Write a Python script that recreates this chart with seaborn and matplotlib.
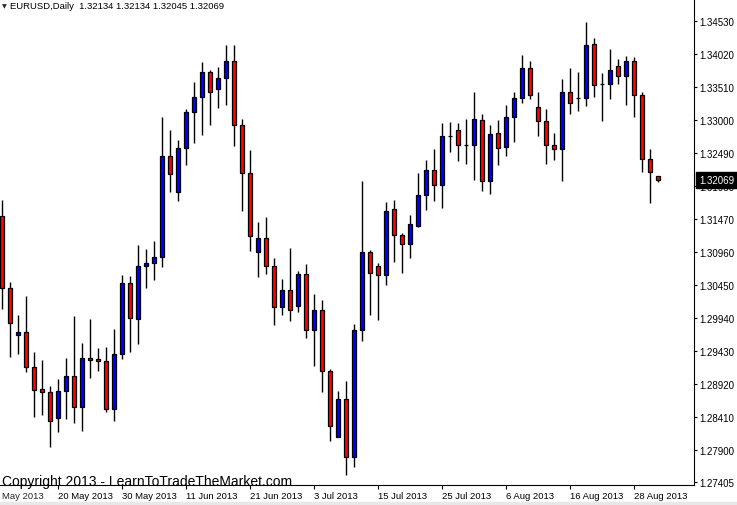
import numpy as np
import pandas as pd
import matplotlib
matplotlib.use("Agg")
import matplotlib.pyplot as plt
import seaborn as sns
from matplotlib.transforms import blended_transform_factory, offset_copy
from matplotlib.patches import Rectangle

# ---------------- data (EURUSD daily) ----------------
symbol_title = "EURUSD,Daily"
start_date = "2013-05-09"

opens = [1.3151, 1.3040, 1.2968, 1.2973, 1.2918, 1.2884, 1.2879, 1.2840, 1.2881, 1.2904,
         1.2856, 1.2932, 1.2930, 1.2927, 1.2853, 1.2938, 1.3048, 1.2992, 1.3074, 1.3079,
         1.3089, 1.3244, 1.3189, 1.3256, 1.3312, 1.3335, 1.3374, 1.3348, 1.3365, 1.3391,
         1.3293, 1.3218, 1.3096, 1.3117, 1.3075, 1.3011, 1.3037, 1.3012, 1.3062, 1.2976,
         1.3007, 1.2912, 1.2810, 1.2868, 1.2779, 1.2975, 1.3096, 1.3074, 1.3060, 1.3162,
         1.3123, 1.3108, 1.3136, 1.3184, 1.3222, 1.3199, 1.3276, 1.3284, 1.3261, 1.3261,
         1.3300, 1.3205, 1.3280, 1.3258, 1.3304, 1.3334, 1.3380, 1.3320, 1.3298, 1.3261,
         1.3255, 1.3344, 1.3334, 1.3334, 1.3418, 1.3355, 1.3355, 1.3383, 1.3368, 1.3392,
         1.3338, 1.3239, 1.32134]
highs = [1.3177, 1.3050, 1.2999, 1.3028, 1.2941, 1.2929, 1.2889, 1.2900, 1.2932, 1.2997,
         1.2955, 1.2992, 1.2948, 1.2949, 1.2977, 1.3060, 1.3059, 1.3107, 1.3101, 1.3113,
         1.3305, 1.3285, 1.3269, 1.3317, 1.3359, 1.3390, 1.3377, 1.3382, 1.3416, 1.3416,
         1.3302, 1.3254, 1.3143, 1.3150, 1.3086, 1.3055, 1.3102, 1.3066, 1.3077, 1.3031,
         1.3022, 1.2915, 1.2881, 1.2897, 1.2985, 1.3205, 1.3099, 1.3079, 1.3173, 1.3177,
         1.3126, 1.3153, 1.3218, 1.3238, 1.3255, 1.3295, 1.3297, 1.3295, 1.3301, 1.3344,
         1.3310, 1.3293, 1.3300, 1.3323, 1.3344, 1.3400, 1.3391, 1.3343, 1.3317, 1.3280,
         1.3363, 1.3380, 1.3374, 1.3452, 1.3427, 1.3373, 1.3410, 1.3394, 1.3399, 1.3397,
         1.3343, 1.3255, 1.32134]
lows = [1.3008, 1.2933, 1.2939, 1.2911, 1.2841, 1.2844, 1.2794, 1.2817, 1.2838, 1.2831,
        1.2820, 1.2901, 1.2912, 1.2848, 1.2835, 1.2931, 1.2942, 1.2953, 1.3041, 1.3052,
        1.3073, 1.3189, 1.3175, 1.3231, 1.3265, 1.3277, 1.3293, 1.3318, 1.3324, 1.3260,
        1.3160, 1.3097, 1.3058, 1.3062, 1.2983, 1.2998, 1.2990, 1.3004, 1.2963, 1.2920,
        1.2880, 1.2804, 1.2810, 1.2752, 1.2763, 1.2959, 1.2998, 1.2991, 1.3045, 1.3081,
        1.3064, 1.3087, 1.3134, 1.3161, 1.3175, 1.3164, 1.3251, 1.3237, 1.3232, 1.3208,
        1.3191, 1.3186, 1.3231, 1.3245, 1.3266, 1.3327, 1.3332, 1.3276, 1.3232, 1.3238,
        1.3205, 1.3310, 1.3314, 1.3322, 1.3335, 1.3298, 1.3332, 1.3355, 1.3323, 1.3304,
        1.3219, 1.3172, 1.32045]
closes = [1.3040, 1.2987, 1.2973, 1.2918, 1.2882, 1.2879, 1.2834, 1.2881, 1.2904, 1.2856,
          1.2932, 1.2929, 1.2927, 1.2853, 1.2938, 1.3048, 1.2994, 1.3074, 1.3079, 1.3089,
          1.3244, 1.3216, 1.3256, 1.3312, 1.3335, 1.3374, 1.3344, 1.3365, 1.3392, 1.3293,
          1.3218, 1.3120, 1.3117, 1.3075, 1.3011, 1.3037, 1.3007, 1.3062, 1.2976, 1.3007,
          1.2912, 1.2827, 1.2868, 1.2779, 1.2975, 1.3096, 1.3064, 1.3060, 1.3160, 1.3123,
          1.3108, 1.3140, 1.3184, 1.3222, 1.3199, 1.3276, 1.3276, 1.3261, 1.3261, 1.3301,
          1.3205, 1.3278, 1.3256, 1.3304, 1.3334, 1.3380, 1.3338, 1.3298, 1.3261, 1.3255,
          1.3344, 1.3327, 1.3334, 1.3416, 1.3354, 1.3355, 1.3378, 1.3368, 1.3392, 1.3338,
          1.3239, 1.3219, 1.32069]

last_bar_text = "1.32134 1.32134 1.32045 1.32069"
current_price = 1.32069
ytick_values = [1.27405, 1.27900, 1.28410, 1.28920, 1.29430, 1.29940, 1.30450,
                1.30960, 1.31470, 1.31980, 1.32490, 1.33000, 1.33510, 1.34020, 1.34530]
first_label_visible = "May 2013"   # the "8 " of "8 May 2013" is cut off at the left edge
copyright_text = "Copyright 2013 - LearnToTradeTheMarket.com"

# ---------------- build frame ----------------
dates = pd.bdate_range(start_date, periods=len(opens))
df = pd.DataFrame({"date": dates, "open": opens, "high": highs,
                   "low": lows, "close": closes})
df["pos"] = np.arange(len(df))

# ---------------- style ----------------
sns.set_style("white")
plt.rcParams["font.family"] = ["Liberation Sans", "DejaVu Sans"]

W, H = 737, 506
fig = plt.figure(figsize=(W / 100, H / 100), dpi=100)
fig.patch.set_facecolor("white")
ax_right_px, ax_bottom_px = 694, 486
ax = fig.add_axes([0, (H - ax_bottom_px) / H, ax_right_px / W, ax_bottom_px / H])
ax.set_facecolor("white")

bull = df["close"] > df["open"]
bear = df["close"] < df["open"]
colors = np.where(bull, "#0000ff", np.where(bear, "#ff0000", "#000000"))

ax.vlines(df["pos"], df["low"], df["high"], color="black", lw=1.0, zorder=1)
ax.bar(df["pos"], (df["close"] - df["open"]).abs(),
       bottom=df[["open", "close"]].min(axis=1), width=0.5,
       color=colors, edgecolor="black", linewidth=0.9, zorder=2)

# scales: 8 px per bar, first bar centre at 2.3 px
ax.set_xlim(-2.3 / 8, (ax_right_px - 2.3) / 8)
ax.set_ylim(1.27358, 1.34871)

# y axis on the right
ax.yaxis.tick_right()
ax.set_yticks(ytick_values)
ax.set_yticklabels([f"{v:.5f}" for v in ytick_values])
ax.tick_params(axis="y", which="both", direction="out", length=2.5, width=0.8,
               pad=1.2, labelsize=7, colors="black", right=True, left=False)

# x axis date ticks every 8 bars
tick_pos = list(range(7, len(df), 8))
tick_labels = [f"{d.day} {d.strftime('%b %Y')}" for d in df["date"].iloc[tick_pos]]
ax.set_xticks(tick_pos)
ax.set_xticklabels(tick_labels, ha="left")
ax.tick_params(axis="x", direction="out", length=3, width=0.8, pad=1.5,
               labelsize=6.8, colors="black", bottom=True)

trans = offset_copy(ax.transAxes, fig=fig, x=1.5, y=-4.5, units="points")
ax.text(0, 0, first_label_visible, transform=trans,
        ha="left", va="top", fontsize=6.8, clip_on=False)

for s in ["left", "top"]:
    ax.spines[s].set_visible(False)
for s in ["right", "bottom"]:
    ax.spines[s].set_color("black")
    ax.spines[s].set_linewidth(0.8)
ax.grid(False)

# current price box
bt = blended_transform_factory(ax.transAxes, ax.transData)
ax.text(1 + 5 / ax_right_px, current_price, f"{current_price:.5f}", transform=bt,
        color="white", fontsize=7, va="center", ha="left", zorder=10, clip_on=False,
        bbox=dict(boxstyle="square,pad=0.3", fc="black", ec="black"))

# header and copyright
fig.text(1.5 / W, 1 - 6.5 / H, "\u25BC", fontsize=4.5, va="center", ha="left",
         family=["DejaVu Sans"])
fig.text(10 / W, 1 - 6.5 / H, f"{symbol_title}  {last_bar_text}",
         fontsize=6.8, va="center", ha="left", color="black")
fig.text(2 / W, 1 - 486 / H, copyright_text, fontsize=10, va="baseline",
         ha="left", color="black")

fig.patches.append(Rectangle((0, 0), 1, 3 / H, transform=fig.transFigure,
                             color="#e8e8e8", zorder=0))

fig.savefig("out.png", dpi=100)
